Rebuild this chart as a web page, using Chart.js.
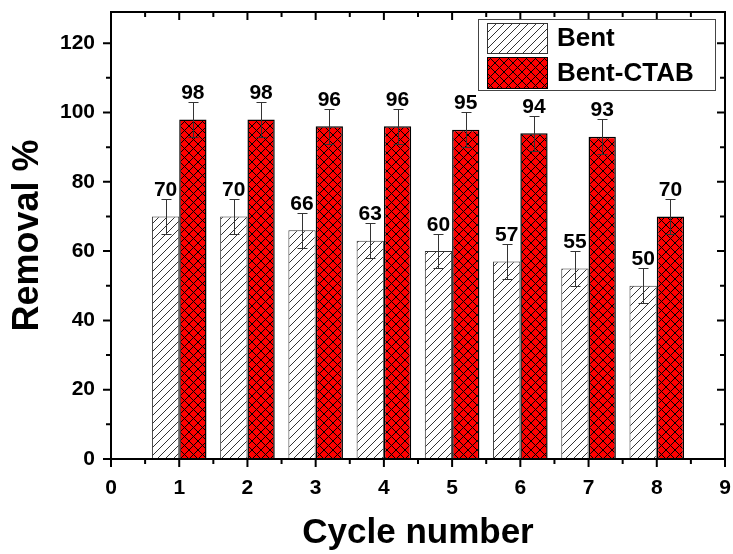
<!DOCTYPE html>
<html>
<head>
<meta charset="utf-8">
<script src="https://cdn.jsdelivr.net/npm/chart.js@4/dist/chart.umd.min.js"></script>
<style>
  html, body { margin: 0; padding: 0; background: #ffffff; }
  canvas { display: block; }
</style>
</head>
<body>
<canvas id="c" width="733" height="554"></canvas>
<script>
// ---- data ----
const cycles = [1, 2, 3, 4, 5, 6, 7, 8];
const bentValues = [70, 70, 66, 63, 60, 57, 55, 50];
const bentCtabValues = [98, 98, 96, 96, 95, 94, 93, 70];
const bentErrors = [5, 5, 5, 5, 5, 5, 5, 5];
const bentCtabErrors = [5, 5, 5, 5, 5, 5, 5, 5];
const seriesNames = ['Bent', 'Bent-CTAB'];
const xAxisTitle = 'Cycle number';
const yAxisTitle = 'Removal %';

const FONT = '"Liberation Sans", Arial, Helvetica, sans-serif';

function makeHatch() {
  const c = document.createElement('canvas');
  c.width = 8; c.height = 8;
  const g = c.getContext('2d');
  g.fillStyle = '#ffffff';
  g.fillRect(0, 0, 8, 8);
  g.strokeStyle = '#333333';
  g.lineWidth = 1;
  g.beginPath();
  g.moveTo(-1, 9); g.lineTo(9, -1);
  g.moveTo(-1, 1); g.lineTo(1, -1);
  g.moveTo(7, 9); g.lineTo(9, 7);
  g.stroke();
  return c;
}
function makeCross() {
  const s = 9;
  const c = document.createElement('canvas');
  c.width = s; c.height = s;
  const g = c.getContext('2d');
  g.fillStyle = '#ff0000';
  g.fillRect(0, 0, s, s);
  g.strokeStyle = '#000000';
  g.lineWidth = 1;
  g.beginPath();
  g.moveTo(0, 0); g.lineTo(s, s);
  g.moveTo(0, s); g.lineTo(s, 0);
  g.stroke();
  return c;
}
const ctx = document.getElementById('c').getContext('2d');
const hatch = ctx.createPattern(makeHatch(), 'repeat');
const cross = ctx.createPattern(makeCross(), 'repeat');

const errorsByDataset = [bentErrors, bentCtabErrors];

function zeroPad(s) {
  s.paddingTop = 0; s.paddingBottom = 0; s.paddingLeft = 0; s.paddingRight = 0;
}

const decorPlugin = {
  id: 'decor',
  afterDatasetsDraw(chart) {
    const g = chart.ctx;
    const ys = chart.scales.y;
    g.save();
    chart.data.datasets.forEach((ds, di) => {
      const meta = chart.getDatasetMeta(di);
      meta.data.forEach((bar, i) => {
        const v = ds.data[i].y;
        const e = errorsByDataset[di][i];
        const x = Math.round(bar.x) + 0.5;
        const yt = Math.round(ys.getPixelForValue(v + e)) + 0.5;
        const yb = Math.round(ys.getPixelForValue(v - e)) + 0.5;
        g.strokeStyle = '#333333';
        g.lineWidth = 1;
        g.beginPath();
        g.moveTo(x, yt); g.lineTo(x, yb);
        g.moveTo(x - 5, yt); g.lineTo(x + 5, yt);
        g.moveTo(x - 5, yb); g.lineTo(x + 5, yb);
        g.stroke();
        g.fillStyle = '#000000';
        g.font = 'bold 21px ' + FONT;
        g.textAlign = 'center';
        g.textBaseline = 'alphabetic';
        g.fillText(String(v), bar.x, yt - 4);
      });
    });
    g.restore();
  },
  afterDraw(chart) {
    const g = chart.ctx;
    const a = chart.chartArea;
    const xs = chart.scales.x, ys = chart.scales.y;
    g.save();
    g.strokeStyle = '#000000';
    g.lineWidth = 2;
    g.strokeRect(a.left, a.top, a.right - a.left, a.bottom - a.top);
    g.beginPath();
    for (let v = 0; v <= 9.001; v += 0.5) {
      const x = xs.getPixelForValue(v);
      const len = (Math.abs(v - Math.round(v)) < 1e-6) ? 8 : 5;
      g.moveTo(x, a.bottom); g.lineTo(x, a.bottom + len);
      g.moveTo(x, a.top); g.lineTo(x, a.top + len);
    }
    for (let v = 0; v <= 120.001; v += 10) {
      const y = ys.getPixelForValue(v);
      const len = (v % 20 === 0) ? 8 : 5;
      g.moveTo(a.left, y); g.lineTo(a.left - len, y);
      g.moveTo(a.right, y); g.lineTo(a.right - len, y);
    }
    g.stroke();

    // legend
    const lx = 478, ly = 19, lw = 237, lh = 71;
    g.fillStyle = '#ffffff';
    g.fillRect(lx, ly, lw, lh);
    g.lineWidth = 1;
    g.strokeStyle = '#444444';
    g.strokeRect(lx + 0.5, ly + 0.5, lw, lh);
    const fills = [hatch, cross];
    const borders = ['#333333', '#000000'];
    const rows = [[23, 30], [57, 31]];
    chart.data.datasets.forEach((ds, i) => {
      const [ry, rh] = rows[i];
      g.fillStyle = fills[i];
      g.fillRect(487, ry, 61, rh);
      g.strokeStyle = borders[i];
      g.lineWidth = 1;
      g.strokeRect(487.5, ry + 0.5, 60, rh);
      g.fillStyle = '#000000';
      g.font = 'bold 26px ' + FONT;
      g.textAlign = 'left';
      g.textBaseline = 'middle';
      g.fillText(ds.label, 557, ry + rh / 2 + 1);
    });
    g.restore();
  }
};

new Chart(ctx, {
  type: 'bar',
  data: {
    datasets: [
      {
        label: seriesNames[0],
        data: cycles.map((c, i) => ({ x: c, y: bentValues[i] })),
        backgroundColor: hatch,
        borderColor: '#333333',
        borderWidth: 1,
        categoryPercentage: 0.8,
        barPercentage: 1.0
      },
      {
        label: seriesNames[1],
        data: cycles.map((c, i) => ({ x: c, y: bentCtabValues[i] })),
        backgroundColor: cross,
        borderColor: '#000000',
        borderWidth: 1.5,
        categoryPercentage: 0.8,
        barPercentage: 1.0
      }
    ]
  },
  options: {
    responsive: false,
    devicePixelRatio: 1,
    animation: false,
    layout: { padding: { top: 12, right: 8, left: 0, bottom: 0 } },
    plugins: { legend: { display: false }, tooltip: { enabled: false } },
    scales: {
      x: {
        type: 'linear',
        min: 0, max: 9,
        offset: false,
        grid: { display: false, drawTicks: false },
        border: { display: true, color: '#000', width: 2 },
        ticks: {
          stepSize: 1, includeBounds: false, padding: 17,
          color: '#000', font: { family: FONT, size: 21, weight: 'bold' }
        },
        title: {
          display: true, text: xAxisTitle, color: '#000',
          font: { family: FONT, size: 35, weight: 'bold' },
          padding: { top: 0, bottom: 0 }
        },
        afterFit(s) { s.height = 95; zeroPad(s); }
      },
      y: {
        min: 0, max: 129,
        grid: { display: false, drawTicks: false },
        border: { display: true, color: '#000', width: 2 },
        ticks: {
          stepSize: 20, includeBounds: false, padding: 16,
          color: '#000', font: { family: FONT, size: 21, weight: 'bold' }
        },
        title: {
          display: true, text: yAxisTitle, color: '#000',
          font: { family: FONT, size: 36, weight: 'bold' },
          padding: { top: 6, bottom: 0 }
        },
        afterFit(s) { s.width = 111; zeroPad(s); }
      }
    }
  },
  plugins: [decorPlugin]
});
</script>
</body>
</html>
